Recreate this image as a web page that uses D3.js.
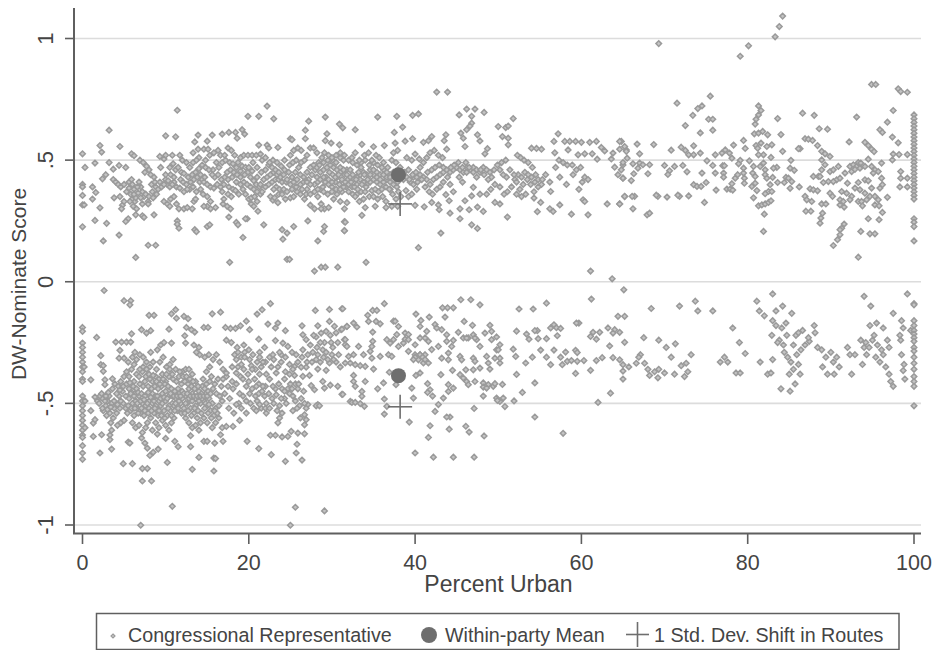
<!DOCTYPE html>
<html>
<head>
<meta charset="utf-8">
<script src="https://cdn.jsdelivr.net/npm/d3@7"></script>
<style>
html, body { margin: 0; padding: 0; background: #fff; }
text { font-family: "Liberation Sans", Arial, sans-serif; fill: #444; }
</style>
</head>
<body>
<svg id="chart" width="937" height="650"></svg>
<script>
let xTicks = [0, 20, 40, 60, 80, 100];
let yTicks = [1, 0.5, 0, -0.5, -1];
let yTickLabels = ["1", ".5", "0", "-.5", "-1"];

// within-party means and the 1 s.d. shift
let meanPoints = [[38, 0.44], [38, -0.386]];
let shiftPoints = [[38.2, 0.32], [38.2, -0.514]];

// republicans, sparse outliers
let repOutliers = [[0,.526],[0,.226],[.3,.47],[0,.40],[0,.39],[0,.355],[0,.316],[.2,.316],[1.2,.39],[1.6,.367],[1.2,.34],[2.1,.56],[2.3,.533],[1.5,.488],[3.2,.623],[3.2,.49],[2.1,.304],[1.5,.252],[2.9,.24],[2.5,.168],[4.4,.192],[6.4,.10],[7.9,.15],[8.8,.15],[4.5,.556],[2.4,.423],[2.8,.44],[3.7,.463],[4.4,.478],[5.2,.47],[5.9,.526],[6.2,.518],[11.4,.705],[10,.6],[11.2,.596],[13.9,.603],[13.5,.575],[15,.578],[15.6,.603],[16.8,.607],[17.6,.614],[18.4,.614],[19.2,.625],[19.5,.607],[18.6,.59],[19.9,.68],[21.2,.68],[22.2,.722],[23,.67],[27.2,.66],[29.2,.677],[30.9,.648],[31.3,.633],[26.8,.623],[26.8,.588],[25,.588],[25.2,.584],[29.4,.608],[29.2,.58],[29.9,.57],[30.9,.563],[21.2,.562],[22.2,.562],[22.4,.55],[23.5,.552],[17.7,.08],[24.6,.092],[24.9,.092],[27.9,.044],[28.7,.06],[29.2,.06],[30.7,.06],[19.3,.182],[24.1,.175],[24.6,.2],[24,.214],[28.3,.168],[29,.207],[29.1,.227],[31.5,.21],[31.5,.247],[27.1,.25],[25.4,.227],[21.8,.234],[18.5,.244],[18.7,.234],[19.8,.259],[19.6,.259],[17.6,.266],[15,.227],[15.3,.234],[13.5,.214],[13.7,.206],[11.4,.25],[11.4,.236],[11.6,.22],[8.6,.275],[7.2,.271],[6.4,.275],[5.5,.259],[5.2,.248],[7.4,.265]];

// republicans, dense band 3-32
let repLeft = [[3.7,.42],[4,.41],[4.3,.40],[4.6,.39],[5,.40],[5.3,.37],[5.6,.41],[5.9,.42],[6,.40],[6.2,.38],[5.8,.36],[6,.34],[6.3,.33],[6.1,.31],[5.7,.33],[4.5,.35],[3.8,.345],[4.8,.315],[4.7,.30],[5,.33],[6.5,.30],[6.4,.345],[6.8,.41],[7,.39],[7.2,.37],[7.4,.35],[7.6,.36],[7.9,.33],[8,.35],[8.4,.37],[8.8,.39],[8.9,.36],[8.5,.345],[7.9,.32],[6.9,.50],[7.3,.49],[7.7,.475],[8,.46],[8.2,.44],[8.6,.43],[7.5,.45],[9.3,.41],[10,.42],[10.2,.40],[10.5,.39],[11,.41],[9.3,.515],[9.8,.505],[10,.52],[10.8,.52],[11.7,.52],[9.4,.47],[10,.44],[10.6,.44],[11.2,.46],[11.5,.47],[11.9,.45],[11.8,.42],[12.1,.41],[12.5,.40],[12.9,.38],[13.3,.39],[9.8,.33],[10.2,.32],[10.6,.34],[11,.35],[11.3,.32],[11.6,.30],[10.5,.31],[12.2,.30],[12.6,.305],[13.2,.30],[13.4,.33],[13.6,.34],[13.7,.37],[14.1,.41],[14.4,.42],[14.7,.43],[14.2,.38],[14.5,.36],[15,.35],[15.4,.33],[15,.31],[15.4,.30],[14.6,.31],[16,.305],[13.3,.53],[13.9,.545],[14.6,.545],[15.1,.545],[14,.51],[14.8,.50],[15.3,.52],[15.8,.53],[16.3,.54],[16.6,.52],[17.1,.52],[17.5,.55],[17.9,.54],[18.3,.52],[16.1,.49],[16.4,.47],[16.8,.49],[17.2,.50],[17.7,.49],[18.1,.485],[18.7,.49],[15.7,.46],[15.9,.43],[16.3,.44],[16.7,.42],[17,.40],[17.5,.42],[18,.43],[17.6,.39],[16.8,.37],[17,.34],[17.5,.36],[17.9,.35],[18.1,.38],[18.4,.375],[16.9,.32],[17.4,.31],[17.8,.30],[19,.51],[19.4,.52],[19.9,.52],[20.4,.52],[20.9,.52],[21.4,.525],[19.2,.475],[19.6,.47],[19.9,.45],[20.2,.43],[20.6,.415],[20.9,.40],[21.3,.39],[19.6,.36],[20,.34],[20.3,.345],[20.7,.35],[21,.33],[21.4,.36],[20.3,.32],[20.6,.31],[21.1,.29],[21.6,.37],[22,.39],[22.4,.40],[22.8,.41],[23.2,.42],[23.6,.42],[24,.41],[24.5,.41],[23.3,.39],[23.7,.38],[24.2,.38],[22.9,.50],[23.4,.49],[23.9,.475],[24.3,.46],[24.8,.45],[25.2,.43],[25.6,.45],[26,.47],[26.3,.49],[26.7,.50],[27,.52],[27.4,.55],[27.8,.55],[25,.52],[25.4,.54],[25.9,.55],[26.3,.54],[24.3,.50],[22.6,.35],[22.9,.335],[23.5,.325],[23.1,.345],[24.4,.34],[25,.345],[25.4,.35],[25.8,.37],[26.2,.36],[26.7,.34],[27,.38],[27.2,.42],[27.6,.44],[28,.46],[28.4,.49],[28.8,.51],[28.2,.53],[29.1,.53],[29.6,.52],[30.1,.50],[30.5,.49],[31,.51],[31.4,.50],[31.8,.46],[27.9,.40],[28.3,.41],[28.6,.38],[28.9,.39],[29.3,.43],[29.7,.45],[30.1,.44],[30.6,.43],[31,.45],[31.5,.44],[31.9,.42],[29.2,.41],[29.6,.40],[30,.39],[30.4,.41],[30.9,.40],[31.2,.37],[31.7,.39],[28.3,.35],[28.7,.32],[29.1,.30],[29.6,.305],[30.2,.34],[30.6,.36],[31,.33],[31.5,.30],[31.8,.325],[27.4,.315],[27.9,.30],[28.7,.30]];

// republicans, extra marks filling the solid part of the band
let repFill = [[5.6,.385],[6.2,.36],[6.6,.39],[6.7,.365],[7,.345],[7.2,.32],[8.3,.40],[8.7,.41],[9.1,.38],[9.5,.39],[9.8,.40],[10.3,.415],[10.8,.40],[11.3,.39],[11.7,.385],[12.2,.37],[12.6,.38],[13,.41],[13.4,.42],[13.8,.43],[14.2,.44],[14.6,.41],[15,.40],[15.4,.39],[15.8,.385],[16.2,.40],[16.6,.39],[17.1,.43],[17.4,.45],[17.8,.46],[18.2,.45],[18.6,.44],[19,.43],[19.4,.41],[19.8,.40],[20.2,.39],[20.6,.38],[21,.37],[21.4,.40],[21.8,.42],[22.2,.43],[22.6,.44],[23,.45],[23.4,.44],[23.8,.43],[24.2,.44],[24.6,.42],[25,.40],[25.4,.41],[25.8,.42],[26.2,.44],[26.6,.43],[27,.45],[27.4,.47],[27.8,.48],[28.2,.47],[28.6,.45],[29,.46],[29.4,.47],[29.8,.48],[30.2,.47],[30.6,.46],[31,.47],[31.4,.46],[31.8,.44],[32.2,.43],[32.6,.42],[33,.43],[33.4,.42],[33.8,.41],[34.2,.40],[34.6,.41],[35,.42],[35.4,.41],[35.8,.40],[36.2,.41],[36.6,.42],[37,.41],[37.4,.40],[37.8,.39],[26.2,.40],[26.6,.41],[27,.41],[27.4,.40],[28.2,.43],[28.6,.42],[29,.43],[29.6,.42],[30,.41],[30.4,.43],[30.8,.44],[31.2,.42],[31.6,.41],[32,.40],[32.4,.39],[33,.40],[33.4,.44],[33.8,.45],[34.2,.44],[34.6,.46],[35,.44],[35.4,.45],[35.8,.44],[36.2,.46],[36.6,.43],[37,.44],[37.4,.45],[38.6,.42],[39,.43],[39.4,.41],[39.8,.43],[40.2,.43],[40.6,.44],[41,.43],[41.4,.42],[41.8,.40],[42.2,.42],[42.6,.43],[43,.44],[43.4,.45],[43.8,.46],[44.2,.45],[44.6,.46],[45,.47],[45.4,.46],[45.8,.45],[46.2,.47],[46.6,.46],[47,.47],[47.4,.46],[47.8,.45],[48.2,.47],[48.6,.46],[49,.45],[12.2,.445],[12.7,.43],[13.2,.44],[13.6,.45],[14,.465],[14.4,.48],[14.8,.47],[15.2,.46],[15.6,.44],[11,.43],[10.5,.47],[10.9,.485],[22,.46],[22.4,.48],[22.8,.47],[23.2,.46],[23.6,.45],[24.9,.48],[25.3,.49],[25.7,.50],[52,.42],[52.4,.44],[52.8,.43],[53.2,.45],[53.6,.44],[54,.43],[54.4,.41],[54.8,.42],[55.2,.40],[51,.43],[50.6,.44],[50.2,.46],
[21.6,.50],[22,.51],[22.5,.49],[23,.38],[23.6,.36],[24,.36],[24.6,.37],[25.2,.38],[25.7,.39],[26.4,.38],[26.9,.36],[27.4,.36],[27.9,.37],[28.3,.38],[29,.37],[29.5,.36],[30,.37],[30.5,.38],[31,.38],[31.4,.39],[32,.37],[32.5,.36],[33,.36],[33.5,.37],[34,.37],[34.5,.35],[35,.35],[35.5,.34],[36,.38],[36.5,.39],[37,.38],[28.5,.48],[29,.49],[29.5,.50],[30,.51],[30.5,.52],[31,.53],[31.5,.52],[32,.50],[32.5,.49],[33,.48],[33.5,.49],[34,.50],[34.5,.48],[35,.49],[35.5,.48],[36,.47],[18.5,.47],[19,.455],[19.5,.44],[20,.47],[20.5,.49],[21,.47],[21.5,.45],[21,.43],[20.4,.455],[19,.40],[18.5,.41],[18.8,.36],[19.3,.38],[12.9,.47],[13.3,.49],[13.7,.50],[12.5,.49],[12,.50]];

// republicans, 32-65
let repMid = [[42.6,.78],[43.9,.78],[35.5,.677],[37.8,.68],[39.7,.684],[40.4,.69],[38.5,.636],[37.5,.614],[32.8,.625],[45.3,.686],[46.2,.71],[47.2,.71],[46.8,.68],[48.3,.696],[51.8,.671],[50,.638],[50.9,.634],[51.2,.64],[46.8,.652],[46.6,.64],[46.2,.625],[45.5,.611],[45.8,.59],[47.5,.604],[47.8,.579],[46,.556],[43.7,.604],[43.5,.58],[42,.597],[41.6,.58],[41,.573],[39.7,.588],[38.8,.578],[50.5,.597],[51.2,.59],[51.2,.563],[57.2,.608],[56.7,.577],[48.7,.547],[48.4,.526],[54,.549],[54.6,.548],[55.2,.545],[56.8,.53],[58.4,.542],[58,.577],[58.6,.577],[59.3,.577],[60,.573],[61,.573],[61.8,.577],[62.4,.552],[62.8,.538],[61.3,.526],[60.4,.526],[59.6,.522],[61.9,.504],[63.6,.505],[63.8,.529],[64.8,.577],[64.6,.545],[65.4,.542],[64,.471],[65,.48],[64.4,.44],[65,.426],[65.2,.35],[63.1,.32],[64.6,.32],[60.8,.275],[58.8,.278],[57.4,.316],[60.2,.337],[60.4,.33],[56.3,.371],[55.1,.326],[54.7,.288],[56.6,.289],[56.2,.30],[54.3,.344],[51.1,.266],[49.6,.326],[50.2,.32],[48.2,.289],[47.5,.307],[46.5,.296],[45.4,.3],[45.4,.259],[46.8,.234],[47.5,.219],[44.2,.282],[44.1,.333],[42.9,.296],[43.1,.2],[40.4,.14],[34.1,.08],[61.1,.044],[63.7,.012],[41.1,.308],[40,.314],[42,.326],[42.8,.316],[46,.333],[46.8,.353],[47.8,.36],[47,.388],[43.7,.358],[33.6,.273],[31.6,.245],[31.5,.21],[35.2,.31],[34,.305],
[32.2,.46],[32.5,.44],[32.9,.42],[33.2,.45],[33.5,.47],[33.9,.44],[34.3,.42],[34.6,.44],[35,.46],[35.4,.43],[35.8,.42],[36.2,.44],[36.6,.45],[37,.43],[37.4,.42],[37.9,.41],[32.3,.41],[32.7,.39],[33.1,.38],[33.6,.40],[34.1,.39],[32.8,.35],[33.3,.33],[33.8,.34],[34.8,.375],[35.2,.38],[35.6,.37],[36.1,.35],[36.5,.33],[36.9,.38],[37.3,.36],[37.7,.34],[38,.37],[38.3,.35],[37.9,.31],[37.2,.31],[36.5,.305],[32.4,.51],[32.8,.53],[33.3,.50],[33.9,.52],[34.4,.53],[34.8,.50],[35.3,.52],[35.7,.51],[36.2,.49],[36.7,.47],[37.2,.50],[37.7,.49],[38.2,.47],[38.7,.45],[39.2,.46],[39.7,.44],[40.1,.45],[40.6,.47],[41,.49],[41.4,.51],[41.8,.53],[42.3,.54],[42.8,.52],[43.3,.51],[43.8,.545],[39,.51],[39.6,.50],[40,.525],[40.5,.505],[37.9,.54],[37.6,.57],[37.4,.53],[36.3,.56],[35,.555],[33.6,.565],[39.3,.42],[39.8,.40],[40.3,.41],[40.8,.42],[41.2,.39],[41.7,.37],[42.1,.36],[42.6,.38],[43,.39],[43.4,.41],[43.9,.43],[44.3,.47],[44.7,.48],[45.2,.49],[45.7,.47],[46.1,.49],[46.5,.47],[47,.45],[47.4,.43],[47.9,.46],[48.3,.44],[48.8,.42],[49.2,.43],[41.5,.45],[42,.46],[42.4,.47],[42.9,.48],[43.4,.47],[45.3,.43],[45.7,.41],[46.2,.45],[44.2,.40],[44.6,.37],[38.9,.375],[39.2,.35],[39.6,.36],[40.2,.38],[49.5,.46],[49.9,.48],[50.4,.49],[50.9,.50],[51.4,.46],[51.9,.44],[52.3,.52],[52.7,.51],[53.1,.50],[53.6,.49],[54.1,.47],[54.5,.44],[53.5,.42],[53,.40],[52.6,.38],[52.2,.41],[51.6,.39],[51.1,.37],[50.7,.36],[50.2,.39],[49.6,.40],[49.1,.38],[48.6,.36],[53.9,.40],[54.3,.37],[54.8,.39],[55.3,.42],[55.7,.44],[56.2,.41],[53.3,.36],[52.8,.35],[52.2,.36],[56.9,.47],[57.3,.50],[57.8,.49],[58.3,.48],[58.9,.48],[59.4,.46],[59.9,.47],[60.4,.43],[60.8,.42],[59,.44],[57.4,.43],[58.2,.40],[59.7,.38],[60.1,.41]];

// republicans, 65 and up
let repRight = [[69.3,.979],[79.1,.927],[80.1,.97],[83.3,1.007],[83.8,1.049],[84.2,1.092],[71.5,.734],[75.5,.763],[74.5,.723],[74,.712],[73.4,.684],[75.3,.668],[75.8,.668],[72.5,.642],[74.3,.612],[75.8,.623],[81.3,.723],[81.6,.704],[81.3,.686],[81,.668],[80.9,.648],[83.6,.671],[86.6,.693],[88,.684],[88.6,.629],[89.6,.627],[93.1,.677],[94.9,.811],[95.4,.811],[98.1,.793],[98.4,.782],[99.2,.779],[97.5,.704],[96.8,.656],[95.9,.625],[96.2,.614],[97.4,.595],[98.1,.571],[92.2,.575],[94.1,.573],[94.5,.56],[94.9,.545],[95.2,.535],
[100,.686],[100,.67],[100,.655],[100,.64],[100,.625],[100,.61],[100,.595],[100,.58],[100,.565],[100,.55],[100,.535],[100,.52],[100,.505],[100,.49],[100,.475],[100,.46],[100,.445],[100,.43],[100,.415],[100,.40],[100,.385],[100,.37],[100,.355],[100,.34],[100,.259],[100,.245],[100,.227],[100,.168],
[80.8,.608],[81.3,.611],[81.8,.618],[82.4,.604],[84,.605],[79.5,.581],[79.7,.548],[78.3,.562],[81,.56],[81.2,.549],[81.6,.57],[82.3,.556],[82.9,.563],[84.2,.536],[82.8,.511],[81.9,.522],[81.3,.522],[86.3,.547],[86.1,.547],[86.9,.588],[87.3,.586],[87.8,.581],[88.4,.56],[88.9,.536],[89.3,.526],[89.9,.515],[88.9,.501],[89.3,.481],[85.2,.499],[85.1,.467],[85.6,.458],[83.5,.47],[83.1,.467],[84.6,.429],[84.9,.426],[85.3,.412],[84.4,.408],[83.6,.408],[85.1,.384],[86.2,.39],[83,.429],[64.6,.577],[65.2,.556],[65.4,.536],[65.5,.508],[65,.49],[64.8,.46],[65,.426],[66,.416],[66.3,.444],[66.2,.485],[66.7,.566],[67,.526],[67,.488],[67.4,.481],[68.2,.481],[68,.444],[66.8,.467],[68.7,.564],[70,.478],[71.2,.474],[70.6,.456],[70.4,.441],[72.2,.478],[72.7,.452],[70.8,.541],[72,.553],[72.5,.54],[72.9,.522],[73.5,.522],[74.3,.529],[73.5,.559],[75.1,.497],[76.1,.522],[75.8,.478],[76.9,.529],[77.3,.542],[77.8,.529],[78.1,.508],[76.1,.447],[77,.477],[77.2,.477],[77.1,.447],[77.1,.43],[74.5,.447],[75,.408],[73.5,.399],[73.9,.392],[74.4,.392],[76.2,.377],[77.5,.381],[77.9,.381],[78.2,.377],[78.1,.403],[78.5,.426],[78.8,.44],[79.1,.499],[78.9,.485],[80.2,.497],[79.5,.467],[79.5,.447],[79.6,.426],[79.6,.405],[80.7,.474],[80.6,.447],[80.9,.433],[80.5,.392],[80.9,.405],[81.5,.474],[81.9,.488],[82.1,.46],[82.1,.44],[82.3,.426],[81.1,.375],[80.7,.345],[82.7,.399],[82.5,.371],[82.1,.362],[82.9,.371],[81.3,.312],[81.7,.316],[82.1,.32],[82.5,.326],[82.8,.333],[82,.278],[81.9,.207],[74.8,.326],[72.9,.353],[71.8,.351],[71.6,.356],[70.3,.348],[69.2,.351],[69,.356],[66.4,.351],[66.1,.351],[65.2,.351],[64.6,.32],[66.2,.3],[67.9,.275],[68.2,.282],[88.7,.241],[88.8,.262],[89,.282],[87,.29],[87.6,.29],[88.9,.32],[89.4,.32],[86.9,.351],[87.1,.337],[87.7,.33],[87.5,.382],[87.9,.378],[88.4,.374],[89.9,.364],[90.2,.351],[87.9,.433],[88.5,.433],[88.9,.46],[88.7,.433],[89.1,.408],[89.7,.412],[89.9,.453],[90.3,.46],[90.9,.474],[90.7,.419],[91.1,.426],[90.3,.412],[92,.405],[92.3,.474],[92.7,.481],[93.1,.474],[93.5,.467],[92.5,.453],[91.7,.447],[92.9,.462],[93.3,.49],[94.9,.474],[95.3,.46],[95.7,.453],[96.1,.488],[95.1,.447],[94.5,.504],[93.6,.488],[94.1,.474],[93.3,.408],[94.1,.419],[94.5,.415],[96.1,.426],[96.2,.399],[95.9,.385],[94.9,.385],[92.9,.385],[93.5,.378],[94.1,.364],[94.7,.351],[91.3,.371],[91.9,.364],[92.5,.351],[91.1,.337],[91.5,.33],[92.3,.337],[91.1,.316],[91.6,.307],[93.3,.33],[93.7,.33],[94.3,.337],[93.8,.312],[95.3,.351],[95.7,.337],[95.3,.316],[95.8,.312],[96.8,.347],[96.2,.285],[95.8,.255],[94.5,.259],[91.6,.237],[91.3,.22],[91.1,.214],[91.1,.193],[90.8,.173],[90.3,.149],[93.6,.207],[94.7,.197],[95.3,.197],[93.3,.101],[98.4,.453],[98.4,.426],[99.2,.426],[98.3,.39],[99.2,.39],[98.2,.523],[99.2,.523],[97.5,.525],[97.4,.501]];

// democrats, outliers and the sides of the mass
let demOutliers = [[2.6,-.036],[5,-.078],[5.8,-.078],[5.7,-.095],[8,-.138],[8.6,-.138],[10.7,-.132],[11.2,-.115],[11.3,-.15],[12.2,-.142],[12.7,-.152],[15.6,-.132],[16.6,-.125],[14.6,-.188],[15.1,-.188],[12.5,-.188],[13.1,-.197],[13.5,-.207],[10.4,-.195],[7.1,-.197],[7.7,-.211],[8.2,-.201],[5.9,-.214],[12.3,-.222],[12.4,-.252],[10.7,-.252],[1.7,-.229],[0,-.188],[0,-.204],[21,-.133],[21.6,-.115],[22.6,-.09],[19.7,-.162],[17.2,-.188],[17.8,-.192],[18.4,-.192],[19,-.181],[20.1,-.197],[22.3,-.174],[23.5,-.17],[23.2,-.19],[24.4,-.201],[21.2,-.236],[23.2,-.242],[24.1,-.252],[24.7,-.266],[26.4,-.181],[28,-.118],[29.7,-.114],[31.2,-.111],[28.3,-.181],[29.7,-.163],[30.3,-.183],[31.1,-.197],[31.8,-.183],[29.3,-.204],[28.7,-.211],[28.1,-.227],[26.5,-.218],[26.9,-.238],[31.5,-.238],[31.6,-.259],
[0,-.252],[0,-.27],[0,-.29],[0,-.31],[0,-.33],[0,-.35],[0,-.37],[0,-.40],[0,-.41],[0,-.47],[0,-.49],[0,-.51],[0,-.53],[0,-.55],[0,-.57],[0,-.59],[0,-.61],[0,-.63],[0,-.64],[0,-.674],[0,-.704],[0,-.73],[.2,-.35],[.3,-.49],[.3,-.60],
[1,-.403],[1.5,-.474],[1,-.53],[1.3,-.581],[1.5,-.567],[1.3,-.636],[2.3,-.629],[2.1,-.704],[3.5,-.688],[3.3,-.649],[2.2,-.304],[2.2,-.341],[2.5,-.345],[2.5,-.368],[2.7,-.403],[2.7,-.423],[3.6,-.399],[4,-.248],[4.7,-.248],[5.3,-.248],[5.8,-.248],[4.5,-.282],[4.4,-.314],[5,-.314],[5.5,-.659],[5.7,-.663],[4.9,-.748],[6,-.748],[7.2,-.768],[7.8,-.768],[7.2,-.819],[8.3,-.819],[10.8,-.923],[7,-1.001],[25.6,-.927],[29.1,-.942],[25,-1.001],[10.2,-.743],[8.1,-.714],[8.5,-.701],[9.1,-.688],[7.5,-.663],[7.8,-.684],[7.1,-.642],[9,-.626],[10,-.644],[11.1,-.656],[11.5,-.678],[13,-.633],[13,-.678],[14,-.722],[13.2,-.771],[15.8,-.778],[15.8,-.725],[16,-.727],[14.6,-.656],[15,-.656],[15.9,-.663],[16.9,-.656],[16.6,-.629],[19.8,-.656],[21.2,-.686],[22.7,-.711],[24.4,-.738],[25.7,-.704],[26.4,-.733],[25.8,-.668],[22.6,-.631],[23.2,-.631],[24,-.638],[24.7,-.636],[25.1,-.615],[25.9,-.622],[26.7,-.625],[26.7,-.588],[26.9,-.567],[26.7,-.547],[27.1,-.505],[26.1,-.51],[28.3,-.505],[28.1,-.51],[28.5,-.51],[31.2,-.463],[30.7,-.43],[29.8,-.425],[29.1,-.437],[28.9,-.41],[27.9,-.444],[27.5,-.427],[27.3,-.385],[26.5,-.389],[25.5,-.385],[26.9,-.351],[26.3,-.351],[25.5,-.348],[28.3,-.359],[29.3,-.364],[29.7,-.334],[32.2,-.492],[31.6,-.334]];

// democrats, dense mass 2-17
let demDense = [[1.8,-.49],[2,-.50],[2.4,-.48],[2.8,-.51],[3,-.49],[3.2,-.47],[3.5,-.50],[3.8,-.52],[2.5,-.53],[2.9,-.55],[3.3,-.54],[3.7,-.56],[4.1,-.54],[4.5,-.52],[4.9,-.50],[5.2,-.52],[4.4,-.47],[4.8,-.45],[5.2,-.47],[3.4,-.58],[3.5,-.61],[3.3,-.63],[3.6,-.44],[3.9,-.42],[4.3,-.43],[4.6,-.41],[5,-.39],[5.3,-.37],[5.6,-.39],[5.9,-.36],[6.2,-.34],[6.5,-.32],[5.5,-.33],[6,-.31],[6.3,-.29],[6.9,-.30],[7.3,-.31],[7.7,-.33],[8.1,-.35],[8.5,-.33],[8.9,-.36],[9.3,-.33],[9.7,-.31],[10.1,-.35],[10.5,-.34],[10.9,-.32],[7.2,-.37],[7.6,-.39],[8,-.38],[8.4,-.41],[8.8,-.39],[9.2,-.40],[9.6,-.38],[10,-.41],[10.4,-.39],[10.8,-.38],[11.2,-.36],[11.6,-.39],[12,-.37],[12.4,-.36],[12.8,-.36],[13.2,-.38],[13.6,-.41],[6.1,-.43],[6.5,-.44],[6.9,-.42],[7.3,-.43],[5.6,-.48],[6,-.50],[6.4,-.49],[6.8,-.47],[7.2,-.50],[7.6,-.51],[8,-.49],[8.4,-.46],[8.8,-.47],[9.2,-.49],[9.6,-.46],[10,-.45],[10.4,-.47],[10.8,-.50],[11.2,-.48],[11.6,-.46],[12,-.45],[12.4,-.47],[12.8,-.44],[13.2,-.46],[13.6,-.48],[14,-.45],[14.4,-.43],[14.8,-.46],[15.2,-.48],[15.6,-.50],[16,-.52],[16.4,-.51],[16.8,-.49],[14.2,-.50],[14.6,-.49],[15,-.51],[15.4,-.53],[15.8,-.55],[16.2,-.54],[5.4,-.54],[5.8,-.53],[6.2,-.55],[6.6,-.52],[7,-.54],[7.4,-.55],[7.8,-.58],[8.2,-.56],[8.6,-.54],[9,-.52],[9.4,-.51],[9.8,-.53],[10.2,-.55],[10.6,-.53],[11,-.51],[11.4,-.53],[11.8,-.50],[12.2,-.52],[12.6,-.50],[13,-.52],[13.4,-.54],[13.8,-.56],[14.2,-.58],[14.6,-.56],[15,-.58],[6,-.58],[6.4,-.60],[6.8,-.59],[7.2,-.62],[7.6,-.60],[8.8,-.58],[9.2,-.60],[9.6,-.57],[10,-.59],[10.4,-.61],[10.7,-.58],[11,-.56],[12.4,-.56],[12.8,-.58],[13.2,-.60],[13.6,-.59],[14,-.61],[15.6,-.60],[16,-.58],[16.4,-.56],[16.8,-.60],[8.4,-.61],[4.6,-.58],[4.2,-.59],[5,-.57],[14.9,-.37],[15.3,-.35],[15.7,-.32],[15.2,-.30],[14.7,-.31],[14.1,-.30],[13.7,-.29],[16.1,-.30],[16.5,-.33],[16.9,-.36],[17.3,-.39],[15.5,-.39],[15.9,-.42],[16.3,-.40],[16.7,-.43],[17.1,-.46],[9,-.28],[9.4,-.26],[9.8,-.25],[8.2,-.29],[13.4,-.26],[14,-.27]];

// democrats, extra marks filling the solid part of the mass
let demFill = [[2.1,-.47],[2.4,-.52],[2.7,-.49],[3,-.525],[3.4,-.515],[3.8,-.49],[4.2,-.505],[4.6,-.49],[3.1,-.455],[2.8,-.47],[2.3,-.46],[4.1,-.46],[4.5,-.445],[4.9,-.43],[5.3,-.42],[5.6,-.44],[5.9,-.455],[6.3,-.46],[6.7,-.455],[7.1,-.46],[7.5,-.47],[7.9,-.455],[8.3,-.44],[8.7,-.43],[9.1,-.44],[9.5,-.43],[9.9,-.42],[10.3,-.43],[10.7,-.44],[11.1,-.45],[11.5,-.44],[11.9,-.42],[12.3,-.41],[12.7,-.42],[13.1,-.43],[13.5,-.44],[13.9,-.43],[14.3,-.46],[14.7,-.44],[15.1,-.45],[8,-.52],[8.4,-.50],[8.8,-.51],[9.2,-.53],[9.6,-.50],[10,-.49],[10.4,-.51],[10.8,-.47],[11.2,-.50],[11.6,-.49],[12,-.48],[12.4,-.50],[12.8,-.48],[13.2,-.49],[13.6,-.51],[14,-.49],[14.4,-.48],[14.8,-.50],[15.2,-.505],[5.8,-.46],[6.2,-.47],[6.6,-.50],[7,-.49],[7.4,-.485],[7.8,-.50],[8.2,-.475],[8.6,-.49],[9,-.47],[9.4,-.48],[9.8,-.475],[10.2,-.48],[10.6,-.46],[11,-.47],[11.4,-.47],[11.8,-.47],[12.2,-.46],[12.6,-.46],[13,-.47],[13.4,-.47],[13.8,-.47],[14.2,-.47],[14.6,-.47],[15,-.47],[15.4,-.46],[5.5,-.51],[5.9,-.52],[6.3,-.52],[6.7,-.54],[7.1,-.52],[7.5,-.53],[7.9,-.54],[8.3,-.53],[8.7,-.52],[9.1,-.55],[9.5,-.55],[9.9,-.56],[10.3,-.52],[10.7,-.55],[11.1,-.53],[11.5,-.52],[11.9,-.54],[12.3,-.54],[12.7,-.53],[13.1,-.55],[13.5,-.52],[13.9,-.53],[14.3,-.54],[14.7,-.52],[15.1,-.54],[15.5,-.56],[15.9,-.53],[6.5,-.38],[6.9,-.36],[7.3,-.35],[7.7,-.36],[8.1,-.40],[8.5,-.385],[8.9,-.41],[9.3,-.42],[9.7,-.40],[10.1,-.38],[10.5,-.36],[10.9,-.40],[11.3,-.41],[11.7,-.37],[12.1,-.39],[12.5,-.39],[12.9,-.40],[13.3,-.41],[7.5,-.41],[7.9,-.43],[6.8,-.39],[6.2,-.41],[5.7,-.415],[14.5,-.40],[14.9,-.42],[15.3,-.41],[15.7,-.44],[16.1,-.46],[16.5,-.47],[20,-.41],[20.4,-.44],[20.8,-.47],[21.2,-.46],[21.6,-.45],[22,-.43],[22.4,-.46],[22.8,-.48],[23.2,-.44],[23.6,-.42],[24,-.44],[18.3,-.30],[18.7,-.29],[19.1,-.31],[19.5,-.29],[20,-.28],[20.5,-.30],[21,-.33],[21.5,-.35],[22,-.33],[22.5,-.31],[23,-.32],[23.5,-.35],
[17.5,-.43],[18,-.41],[18.5,-.42],[19,-.39],[19.4,-.36],[19.9,-.38],[20.3,-.345],[20.8,-.36],[21.2,-.42],[17.6,-.52],[18.2,-.54],[18.8,-.50],[19.3,-.47],[19.7,-.49],[20.2,-.50],[20.6,-.52],[21,-.49],[21.5,-.52],[22,-.52],[22.5,-.52],[23,-.50],[23.4,-.53],[24,-.54],[24.3,-.48],[24.7,-.44],[25.2,-.44],[25.6,-.42],[25.9,-.44],[26.3,-.48],[26.7,-.50],[24.4,-.37],[24.9,-.38],[25.3,-.36],[25.9,-.33],[26.4,-.31],[27,-.33],[27.6,-.33],[28.1,-.32],[28.6,-.33],[29,-.31],[29.5,-.32],[30,-.30],[30.5,-.33],[23.9,-.30],[24.4,-.31],[27.4,-.26],[28.2,-.27],[29.1,-.25],[29.9,-.25],[18,-.35],[18.7,-.35]];

// democrats, 17-32
let demMid = [[17.3,-.24],[17.9,-.25],[18.6,-.27],[19.4,-.26],[19.5,-.31],[18.5,-.32],[19.1,-.34],[20.1,-.32],[21.3,-.29],[21.9,-.27],[21.3,-.31],[22.9,-.30],[23.7,-.29],[23.9,-.33],[24.9,-.34],[23.3,-.375],[22.1,-.38],[21.3,-.38],[22.5,-.40],[18.5,-.375],[17.3,-.375],[16.9,-.40],[19.3,-.40],[19.7,-.43],[20.1,-.46],[20.9,-.43],[21.7,-.43],[22.9,-.43],[23.3,-.465],[23.9,-.48],[24.9,-.46],[24.5,-.50],[25.3,-.53],[22.1,-.50],[21.3,-.505],[20.9,-.53],[22.1,-.54],[23.7,-.51],[23.5,-.58],[23.7,-.56],[18.5,-.505],[19.1,-.52],[19.7,-.54],[18.9,-.57],[18.1,-.595],[17.3,-.595],[26,-.42],[26.6,-.45],[25,-.42],[24.3,-.40],[27.7,-.29],[28.3,-.30],[28.9,-.28],[29.3,-.29],[30.1,-.27],[30.7,-.25],[27.1,-.30],[26.5,-.28],[25.7,-.30],[25.2,-.29],[30.2,-.32],[30.8,-.30],[31,-.35],[27.8,-.22],[28.6,-.25],[29.8,-.22],[30.5,-.21],[22.7,-.35],[20.4,-.36],[21.7,-.33],[20.7,-.40],[24.3,-.45],[25.3,-.47],[18.1,-.44],[17.7,-.48],[18.9,-.46],[21.9,-.47],[25.8,-.52],[26.2,-.56],[25.6,-.49],[26.9,-.52]];

// democrats, 32 and up
let demRight = [[36.3,-.09],[31.3,-.111],[34.9,-.118],[35.4,-.118],[34.3,-.138],[34.4,-.163],[35.3,-.163],[35.8,-.173],[32.6,-.17],[33,-.186],[37.4,-.162],[37.6,-.162],[38,-.184],[34.9,-.207],[31.8,-.184],[31.2,-.195],[40.1,-.133],[41.7,-.145],[40.7,-.159],[43.6,-.145],[43.3,-.107],[43.9,-.107],[44.6,-.107],[45.5,-.074],[46.7,-.074],[47.8,-.095],[45.9,-.163],[46.9,-.179],[49,-.179],[52.5,-.112],[54.2,-.112],[55.8,-.088],[61.2,-.071],[65.1,-.033],[64.4,-.142],[65.2,-.142],[59.7,-.17],[59.4,-.17],[56.7,-.177],[56.3,-.19],[57,-.189],[57.5,-.192],[57.1,-.222],[52.2,-.203],[54.7,-.201],[54.4,-.201],[53.4,-.215],[53.7,-.236],[54.8,-.234],[55.8,-.234],[61.4,-.208],[61.1,-.225],[61.8,-.236],[62.2,-.208],[63.2,-.19],[64,-.197],[63.8,-.211],[64.6,-.208],[65.2,-.249],[63.4,-.264],[51.8,-.277],[52.1,-.307],[53.3,-.334],[54.1,-.31],[55.1,-.281],[55.8,-.31],[56.7,-.281],[56.3,-.341],[57.5,-.31],[58.1,-.289],[57.7,-.341],[58.3,-.327],[58.8,-.324],[59.5,-.327],[60.3,-.324],[59.3,-.282],[59.5,-.291],[52.2,-.381],[54.4,-.416],[52.9,-.455],[59.3,-.377],[61.1,-.364],[61.8,-.324],[62.5,-.312],[63.8,-.312],[64.6,-.321],[65,-.341],[65,-.367],[63.5,-.458],[62,-.496],[54.4,-.556],[57.8,-.623],[51.9,-.49],[50.5,-.422],[50.2,-.334],[50.2,-.314],[50.2,-.259],[49.8,-.28],[50,-.28],[49.6,-.314],[48.6,-.307],[48.8,-.334],[49,-.359],[47.8,-.355],[47,-.362],[46.1,-.362],[44.5,-.364],[43.1,-.382],[40.6,-.375],[40.1,-.385],[45.4,-.382],[45.8,-.396],[46.2,-.41],[46.4,-.423],[47.2,-.41],[48.2,-.416],[48.2,-.433],[48.8,-.423],[49.4,-.43],[48.6,-.437],[49.6,-.419],[48.2,-.47],[47.1,-.521],[49.8,-.478],[50.6,-.478],[50.2,-.492],[50.8,-.513],[49.9,-.488],[44,-.423],[44.6,-.437],[44,-.451],[43.4,-.478],[41.5,-.419],[41.8,-.444],[41.5,-.455],[42.1,-.47],[42.8,-.505],[42.4,-.533],[39.8,-.478],[39.6,-.437],[36.2,-.416],[35.5,-.44],[34,-.41],[37.7,-.423],[36.9,-.372],[36.3,-.482],[36.6,-.512],[36.3,-.544],[39.3,-.577],[41.8,-.592],[44.1,-.606],[44.2,-.556],[43.8,-.556],[46.1,-.594],[46.5,-.618],[48.3,-.634],[41.6,-.64],[40,-.704],[42.2,-.721],[44.6,-.721],[47.1,-.721],[32.6,-.385],[32.6,-.41],[32.8,-.43],[33.6,-.451],[33.6,-.471],[31.3,-.463],[32.4,-.496],[32.8,-.496],[33.4,-.501],[33.9,-.512],[32,-.307],[32.2,-.334],[32.8,-.341],[33.4,-.345],[34,-.348],[35,-.359],[33.8,-.3],[34.6,-.286],[34.8,-.314],[35.8,-.307],[36.8,-.3],[37.2,-.307],[31.6,-.238],[31.8,-.266],[32.6,-.3],[33.2,-.266],[34.9,-.245],[34.8,-.266],[36.6,-.238],[37,-.252],[37.4,-.238],[37.8,-.217],[38.8,-.211],[39.2,-.217],[38.8,-.236],[39.2,-.238],[38.6,-.252],[38,-.266],[39.2,-.286],[40,-.3],[40.6,-.3],[41.2,-.3],[40.4,-.321],[41,-.334],[41.6,-.334],[42,-.279],[42.8,-.266],[43.2,-.314],[44,-.321],[44,-.293],[40,-.259],[40.6,-.231],[41.2,-.231],[41.6,-.245],[40.6,-.184],[41.4,-.204],[42.4,-.176],[42.6,-.19],[43.2,-.197],[43.8,-.218],[44.6,-.241],[43.8,-.245],[44.4,-.266],[45.2,-.208],[45.8,-.231],[46.4,-.231],[47,-.218],[47.4,-.238],[48.4,-.211],[49.2,-.204],[49.8,-.227],[49.2,-.238],[47.8,-.266],[47.2,-.231],[47,-.314],[47.2,-.327],[45.4,-.307],[45.6,-.321],[46.2,-.231],
[40.6,-.30],[40.9,-.31],[41.2,-.32],[40,-.31],[39.8,-.32],[67.5,-.23],[69.3,-.24],[70.2,-.27],[70.8,-.31],[71.3,-.255],[73.7,-.08],[71.8,-.10],[68.4,-.11],[74,-.12],[75.8,-.12],[67.1,-.30],[66.9,-.31],[66.6,-.335],[65.7,-.35],[67.6,-.335],[68,-.36],[68.8,-.37],[69.3,-.36],[70,-.375],[68.2,-.385],[69.2,-.395],[71.2,-.38],[72,-.345],[72.6,-.335],[73.2,-.30],[72.4,-.39],[72.8,-.37],[65,-.40],[76.7,-.33],[77.2,-.31],[77.6,-.33],[78.6,-.375],[79.1,-.375],[78.2,-.19],[79,-.25],[79.7,-.295],[81.5,-.33],[82.4,-.38],[82.8,-.375],[84,-.44],[85.1,-.45],[83,-.32],[83.8,-.24],[84.1,-.19],[85.3,-.13],[84.7,-.22],[85.8,-.22],[85.5,-.26],[86.1,-.21],[86.6,-.20],[87.4,-.245],[88,-.18],[88.1,-.21],[87.3,-.23],[86.9,-.26],[86.4,-.28],[85.9,-.30],[84.2,-.10],[83,-.05],[83.4,-.12],[81.1,-.08],[81.4,-.12],[82,-.14],[83,-.16],[83.4,-.18],[82.9,-.22],[83.6,-.25],[84.6,-.17],[84.3,-.26],[85,-.38],[85.5,-.36],[85.2,-.33],[84.8,-.31],[84.4,-.29],[85.7,-.42],[86.3,-.38],[86.1,-.34],[88.4,-.27],[88.9,-.28],[89.4,-.31],[90,-.29],[90.3,-.33],[90.7,-.31],[89,-.35],[89.6,-.38],[90.4,-.38],[91,-.35],[92,-.27],[92.3,-.30],[92.9,-.30],[94,-.06],[94.8,-.10],[98.4,-.24],[99.2,-.05],[92.5,-.38],[93.8,-.34],[94.3,-.30],[95.2,-.22],[95.5,-.17],[96.3,-.19],[96.8,-.24],[97,-.27],[96.3,-.30],[95.9,-.33],[96.6,-.35],[97,-.38],[97.2,-.41],[97.5,-.43],[94.7,-.18],[95,-.24],[95.6,-.26],[96.1,-.28],[94.2,-.25],[93.6,-.24],[94,-.27],[94.6,-.27],[95.4,-.31],[97.5,-.13],[98.5,-.16],[98.7,-.19],[98.3,-.22],[98.5,-.30],[98.8,-.34],[98.7,-.365],[98.9,-.40],[99.6,-.20],[100,-.09],[100,-.095],[100,-.16],[100,-.18],[100,-.20],[100,-.215],[100,-.23],[100,-.245],[100,-.27],[100,-.285],[100,-.31],[100,-.335],[100,-.36],[100,-.39],[100,-.41],[100,-.43],[100,-.51]];

let legendItems = ["Congressional Representative", "Within-party Mean", "1 Std. Dev. Shift in Routes"];

let svg = d3.select("#chart");

let x = d3.scaleLinear().domain([0, 100]).range([82.5, 914]);
let y = d3.scaleLinear().domain([-1, 1]).range([525, 38.5]);

// grid
svg.append("g").selectAll("line")
    .data(yTicks)
    .enter().append("line")
    .attr("x1", 74).attr("x2", 921)
    .attr("y1", d => y(d)).attr("y2", d => y(d))
    .attr("stroke", "#dcdcdc")
    .attr("stroke-width", 1.6);

// points
let allPoints = [].concat(repOutliers, repLeft, repFill, repMid, repRight, demOutliers, demDense, demFill, demMid, demRight);
let diamond = d3.symbol().type(d3.symbolDiamond2).size(20);
svg.append("g").selectAll("path")
    .data(allPoints)
    .enter().append("path")
    .attr("d", diamond)
    .attr("transform", d => "translate(" + x(d[0]) + "," + y(d[1]) + ")")
    .attr("fill", "#c4c4c4")
    .attr("stroke", "#9a9a9a")
    .attr("stroke-width", 1.5);

// means
svg.append("g").selectAll("circle")
    .data(meanPoints)
    .enter().append("circle")
    .attr("cx", d => x(d[0])).attr("cy", d => y(d[1]))
    .attr("r", 7.5)
    .attr("fill", "#6e6e6e");

// shift crosses
let shift = svg.append("g").attr("stroke", "#6e6e6e").attr("stroke-width", 1.6);
shiftPoints.forEach(d => {
    shift.append("line").attr("x1", x(d[0]) - 12).attr("x2", x(d[0]) + 12).attr("y1", y(d[1])).attr("y2", y(d[1]));
    shift.append("line").attr("x1", x(d[0])).attr("x2", x(d[0])).attr("y1", y(d[1]) - 12).attr("y2", y(d[1]) + 12);
});

// axes
let axisColor = "#5f5f5f";
svg.append("line").attr("x1", 74).attr("x2", 74).attr("y1", 8).attr("y2", 534).attr("stroke", axisColor).attr("stroke-width", 2);
svg.append("line").attr("x1", 73).attr("x2", 921).attr("y1", 533.5).attr("y2", 533.5).attr("stroke", axisColor).attr("stroke-width", 2);

svg.append("g").selectAll("line")
    .data(xTicks)
    .enter().append("line")
    .attr("x1", d => x(d)).attr("x2", d => x(d))
    .attr("y1", 534).attr("y2", 544)
    .attr("stroke", axisColor).attr("stroke-width", 1.6);
svg.append("g").selectAll("text")
    .data(xTicks)
    .enter().append("text")
    .attr("x", d => x(d)).attr("y", 570)
    .attr("text-anchor", "middle")
    .attr("font-size", 21.5)
    .text(d => d);

svg.append("g").selectAll("line")
    .data(yTicks)
    .enter().append("line")
    .attr("x1", 65).attr("x2", 74)
    .attr("y1", d => y(d)).attr("y2", d => y(d))
    .attr("stroke", axisColor).attr("stroke-width", 1.6);
svg.append("g").selectAll("text")
    .data(yTicks)
    .enter().append("text")
    .attr("transform", d => "translate(52.5," + y(d) + ") rotate(-90)")
    .attr("text-anchor", "middle")
    .attr("font-size", 22)
    .text((d, i) => yTickLabels[i]);

svg.append("text")
    .attr("x", 498.5).attr("y", 592)
    .attr("text-anchor", "middle")
    .attr("font-size", 23)
    .text("Percent Urban");
svg.append("text")
    .attr("transform", "translate(26,284) rotate(-90)")
    .attr("text-anchor", "middle")
    .attr("font-size", 21)
    .text("DW-Nominate Score");

// legend
svg.append("rect")
    .attr("x", 96.5).attr("y", 613.5)
    .attr("width", 802.5).attr("height", 36)
    .attr("fill", "#fff")
    .attr("stroke", "#5f5f5f")
    .attr("stroke-width", 1.5);
svg.append("path")
    .attr("d", d3.symbol().type(d3.symbolDiamond2).size(10))
    .attr("transform", "translate(113,636)")
    .attr("fill", "#cfcfcf").attr("stroke", "#9b9b9b").attr("stroke-width", 1.2);
svg.append("circle").attr("cx", 429).attr("cy", 635).attr("r", 8).attr("fill", "#6e6e6e");
svg.append("line").attr("x1", 626).attr("x2", 649).attr("y1", 634.5).attr("y2", 634.5).attr("stroke", "#6e6e6e").attr("stroke-width", 1.6);
svg.append("line").attr("x1", 637.5).attr("x2", 637.5).attr("y1", 622).attr("y2", 647).attr("stroke", "#6e6e6e").attr("stroke-width", 1.6);
let legendX = [128, 445, 654];
svg.append("g").selectAll("text")
    .data(legendItems)
    .enter().append("text")
    .attr("x", (d, i) => legendX[i]).attr("y", 642)
    .attr("font-size", 19.7)
    .text(d => d);
</script>
</body>
</html>
